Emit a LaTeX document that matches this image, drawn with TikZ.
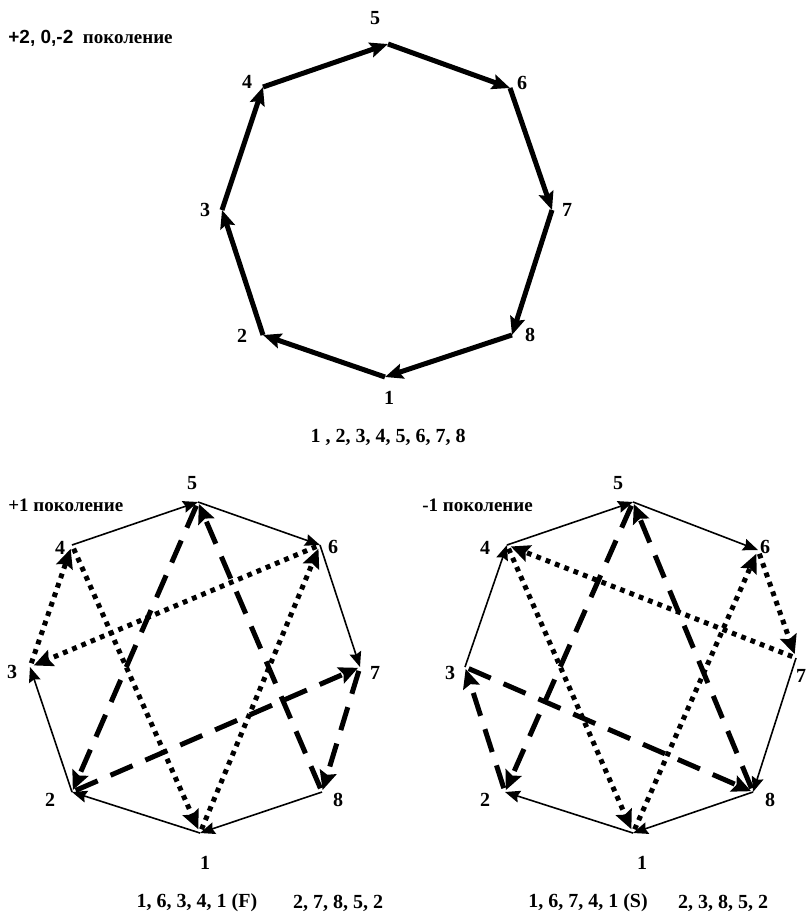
\documentclass[tikz,border=0pt]{standalone}
\usepackage{fontspec}
\setmainfont{Liberation Serif}
\newfontfamily\arialfont{Liberation Sans}
\usetikzlibrary{arrows.meta}

\tikzset{
  boldedge/.style={line width=2.5pt, -{Stealth[length=9pt,width=7.5pt,inset=1.5pt]}},
  thinedge/.style={line width=0.8pt, -{Stealth[length=7.5pt,width=6pt,inset=1pt]}},
  dotedge/.style={line width=2.5pt, dash pattern=on 2.4pt off 2.6pt, shorten <=2pt, shorten >=2pt, -{Stealth[length=9.5pt,width=8.5pt,inset=1.5pt]}},
  dashedge/.style={line width=2.5pt, dash pattern=on 12pt off 7pt, shorten <=2pt, shorten >=1pt, -{Stealth[length=9.5pt,width=8.5pt,inset=1.5pt]}},
  numlbl/.style={font=\fontsize{10}{12}\selectfont\bfseries, inner sep=0pt},
  titlelbl/.style={font=\fontsize{9.5}{12}\selectfont\bfseries, inner sep=0pt, anchor=west},
}

\begin{document}
\begin{tikzpicture}[x=0.5pt, y=-0.5pt]
  \useasboundingbox (0,0) rectangle (807,916);

  % top octagon: +2, 0, -2
  \coordinate (a1) at (385,377);
  \coordinate (a2) at (263,335);
  \coordinate (a3) at (222,210);
  \coordinate (a4) at (263,87);
  \coordinate (a5) at (388,44);
  \coordinate (a6) at (510,88);
  \coordinate (a7) at (552,210);
  \coordinate (a8) at (512,335);

  \node[titlelbl] (ttop) at (8,38) {{\arialfont +2, 0,-2}\ \ поколение};
  \node[numlbl] (la1) at (389,398) {1};
  \node[numlbl] (la2) at (242,336) {2};
  \node[numlbl] (la3) at (205,210) {3};
  \node[numlbl] (la4) at (247,82) {4};
  \node[numlbl] (la5) at (375,18) {5};
  \node[numlbl] (la6) at (522,83) {6};
  \node[numlbl] (la7) at (567,210) {7};
  \node[numlbl] (la8) at (530,335) {8};

  \draw[boldedge] (a1) -- (a2);
  \draw[boldedge] (a2) -- (a3);
  \draw[boldedge] (a3) -- (a4);
  \draw[boldedge] (a4) -- (a5);
  \draw[boldedge] (a5) -- (a6);
  \draw[boldedge] (a6) -- (a7);
  \draw[boldedge] (a7) -- (a8);
  \draw[boldedge] (a8) -- (a1);

  \node[numlbl] (capa) at (388,437) {1 , 2, 3, 4, 5, 6, 7, 8};

  % bottom left octagon: +1
  \coordinate (b1) at (200,833);
  \coordinate (b2) at (72,792);
  \coordinate (b3) at (30,667);
  \coordinate (b4) at (72,545);
  \coordinate (b5) at (198,502);
  \coordinate (b6) at (320,545);
  \coordinate (b7) at (360,667);
  \coordinate (b8) at (322,792);

  \node[titlelbl] (tleft) at (8,505) {+1 поколение};
  \node[numlbl] (lb1) at (205,863) {1};
  \node[numlbl] (lb2) at (50,800) {2};
  \node[numlbl] (lb3) at (12,672) {3};
  \node[numlbl] (lb4) at (60,548) {4};
  \node[numlbl] (lb5) at (192,483) {5};
  \node[numlbl] (lb6) at (333,547) {6};
  \node[numlbl] (lb7) at (375,673) {7};
  \node[numlbl] (lb8) at (338,800) {8};

  \draw[thinedge] (b8) -- (b1);
  \draw[thinedge] (b1) -- (b2);
  \draw[thinedge] (b2) -- (b3);
  \draw[thinedge] (b4) -- (b5);
  \draw[thinedge] (b5) -- (b6);
  \draw[thinedge] (b6) -- (b7);

  \draw[dotedge] (b1) -- (b6);
  \draw[dotedge] (b6) -- (b3);
  \draw[dotedge] (b3) -- (b4);
  \draw[dotedge] (b4) -- (b1);

  \draw[dashedge] (b2) -- (b7);
  \draw[dashedge] (b7) -- (b8);
  \draw[dashedge] (b8) -- (b5);
  \draw[dashedge] (b5) -- (b2);

  \node[numlbl] (capb1) at (197,903) {1, 6, 3, 4, 1 (F)};
  \node[numlbl] (capb2) at (338,903) {2, 7, 8, 5, 2};

  % bottom right octagon: -1
  \coordinate (c1) at (633,833);
  \coordinate (c2) at (505,792);
  \coordinate (c3) at (465,667);
  \coordinate (c4) at (507,545);
  \coordinate (c5) at (633,502);
  \coordinate (c6) at (758,550);
  \coordinate (c7) at (796,658);
  \coordinate (c8) at (753,792);

  \node[titlelbl] (tright) at (422,505) {-1 поколение};
  \node[numlbl] (lc1) at (642,863) {1};
  \node[numlbl] (lc2) at (485,800) {2};
  \node[numlbl] (lc3) at (450,673) {3};
  \node[numlbl] (lc4) at (485,548) {4};
  \node[numlbl] (lc5) at (618,483) {5};
  \node[numlbl] (lc6) at (765,547) {6};
  \node[numlbl] (lc7) at (801,676) {7};
  \node[numlbl] (lc8) at (770,800) {8};

  \draw[thinedge] (c8) -- (c1);
  \draw[thinedge] (c1) -- (c2);
  \draw[thinedge] (c3) -- (c4);
  \draw[thinedge] (c4) -- (c5);
  \draw[thinedge] (c5) -- (c6);
  \draw[thinedge] (c7) -- (c8);

  \draw[dotedge] (c1) -- (c6);
  \draw[dotedge] (c6) -- (c7);
  \draw[dotedge] (c7) -- (c4);
  \draw[dotedge] (c4) -- (c1);

  \draw[dashedge] (c2) -- (c3);
  \draw[dashedge] (c3) -- (c8);
  \draw[dashedge] (c8) -- (c5);
  \draw[dashedge] (c5) -- (c2);

  \node[numlbl] (capc1) at (588,903) {1, 6, 7, 4, 1 (S)};
  \node[numlbl] (capc2) at (723,903) {2, 3, 8, 5, 2};
\end{tikzpicture}
\end{document}
